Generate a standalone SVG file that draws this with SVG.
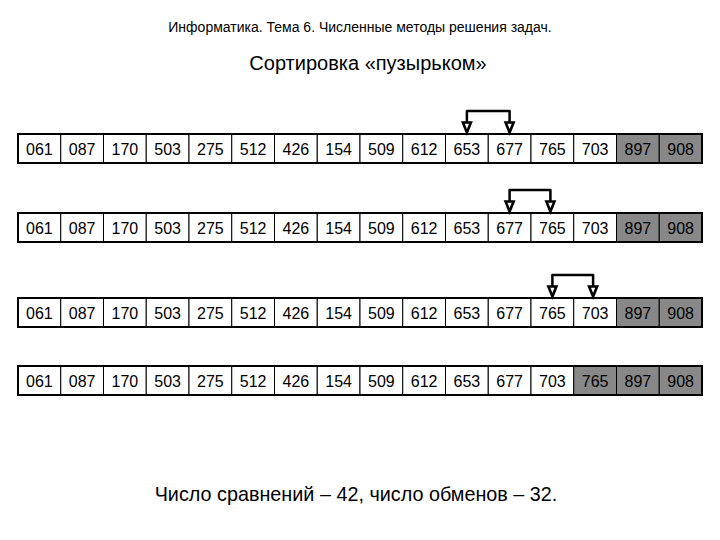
<svg xmlns="http://www.w3.org/2000/svg" xmlns:xlink="http://www.w3.org/1999/xlink" width="720" height="540" viewBox="0 0 720 540">
<style>
.t{font-family:"Liberation Sans",Arial,sans-serif;fill:#000;text-anchor:middle}
.h1{font-size:14px}
.h2{font-size:20px}
.ft{font-size:19.8px}
.c{fill:#fff;stroke:#000;stroke-width:1}
.g{fill:#888;stroke:#000;stroke-width:1}
.o{fill:none;stroke:#000;stroke-width:2}
.v{font-family:"Liberation Sans",Arial,sans-serif;font-size:16px;text-anchor:middle;fill:#000}
.ln{fill:none;stroke:#000;stroke-width:2.5;stroke-linejoin:round}
.ah{fill:#fff;stroke:#000;stroke-width:2.6;stroke-linejoin:miter}
</style>
<defs>
<polygon id="ah" class="ah" points="-4,-11.5 4,-11.5 0,-1.5"/>
</defs>
<rect width="720" height="540" fill="#fff"/>
<text class="t h1" x="360" y="32">Информатика. Тема 6. Численные методы решения задач.</text>
<text class="t h2" x="368" y="70">Сортировка «пузырьком»</text>

<g id="row1">
<rect class="c" x="18" y="134" width="42.75" height="29"/><rect class="c" x="60.75" y="134" width="42.75" height="29"/><rect class="c" x="103.5" y="134" width="42.75" height="29"/><rect class="c" x="146.25" y="134" width="42.75" height="29"/><rect class="c" x="189" y="134" width="42.75" height="29"/><rect class="c" x="231.75" y="134" width="42.75" height="29"/><rect class="c" x="274.5" y="134" width="42.75" height="29"/><rect class="c" x="317.25" y="134" width="42.75" height="29"/><rect class="c" x="360" y="134" width="42.75" height="29"/><rect class="c" x="402.75" y="134" width="42.75" height="29"/><rect class="c" x="445.5" y="134" width="42.75" height="29"/><rect class="c" x="488.25" y="134" width="42.75" height="29"/><rect class="c" x="531" y="134" width="42.75" height="29"/><rect class="c" x="573.75" y="134" width="42.75" height="29"/><rect class="g" x="616.5" y="134" width="42.75" height="29"/><rect class="g" x="659.25" y="134" width="42.75" height="29"/>
<rect class="o" x="18" y="134" width="684" height="29"/>
<text class="v" y="154.5"><tspan x="39.4">061</tspan><tspan x="82.1">087</tspan><tspan x="124.9">170</tspan><tspan x="167.6">503</tspan><tspan x="210.4">275</tspan><tspan x="253.1">512</tspan><tspan x="295.9">426</tspan><tspan x="338.6">154</tspan><tspan x="381.4">509</tspan><tspan x="424.1">612</tspan><tspan x="466.9">653</tspan><tspan x="509.6">677</tspan><tspan x="552.4">765</tspan><tspan x="595.1">703</tspan><tspan x="637.9">897</tspan><tspan x="680.6">908</tspan></text>
</g>

<g id="row2">
<rect class="c" x="18" y="213" width="42.75" height="29"/><rect class="c" x="60.75" y="213" width="42.75" height="29"/><rect class="c" x="103.5" y="213" width="42.75" height="29"/><rect class="c" x="146.25" y="213" width="42.75" height="29"/><rect class="c" x="189" y="213" width="42.75" height="29"/><rect class="c" x="231.75" y="213" width="42.75" height="29"/><rect class="c" x="274.5" y="213" width="42.75" height="29"/><rect class="c" x="317.25" y="213" width="42.75" height="29"/><rect class="c" x="360" y="213" width="42.75" height="29"/><rect class="c" x="402.75" y="213" width="42.75" height="29"/><rect class="c" x="445.5" y="213" width="42.75" height="29"/><rect class="c" x="488.25" y="213" width="42.75" height="29"/><rect class="c" x="531" y="213" width="42.75" height="29"/><rect class="c" x="573.75" y="213" width="42.75" height="29"/><rect class="g" x="616.5" y="213" width="42.75" height="29"/><rect class="g" x="659.25" y="213" width="42.75" height="29"/>
<rect class="o" x="18" y="213" width="684" height="29"/>
<text class="v" y="233.5"><tspan x="39.4">061</tspan><tspan x="82.1">087</tspan><tspan x="124.9">170</tspan><tspan x="167.6">503</tspan><tspan x="210.4">275</tspan><tspan x="253.1">512</tspan><tspan x="295.9">426</tspan><tspan x="338.6">154</tspan><tspan x="381.4">509</tspan><tspan x="424.1">612</tspan><tspan x="466.9">653</tspan><tspan x="509.6">677</tspan><tspan x="552.4">765</tspan><tspan x="595.1">703</tspan><tspan x="637.9">897</tspan><tspan x="680.6">908</tspan></text>
</g>

<g id="row3">
<rect class="c" x="18" y="298" width="42.75" height="29"/><rect class="c" x="60.75" y="298" width="42.75" height="29"/><rect class="c" x="103.5" y="298" width="42.75" height="29"/><rect class="c" x="146.25" y="298" width="42.75" height="29"/><rect class="c" x="189" y="298" width="42.75" height="29"/><rect class="c" x="231.75" y="298" width="42.75" height="29"/><rect class="c" x="274.5" y="298" width="42.75" height="29"/><rect class="c" x="317.25" y="298" width="42.75" height="29"/><rect class="c" x="360" y="298" width="42.75" height="29"/><rect class="c" x="402.75" y="298" width="42.75" height="29"/><rect class="c" x="445.5" y="298" width="42.75" height="29"/><rect class="c" x="488.25" y="298" width="42.75" height="29"/><rect class="c" x="531" y="298" width="42.75" height="29"/><rect class="c" x="573.75" y="298" width="42.75" height="29"/><rect class="g" x="616.5" y="298" width="42.75" height="29"/><rect class="g" x="659.25" y="298" width="42.75" height="29"/>
<rect class="o" x="18" y="298" width="684" height="29"/>
<text class="v" y="318.5"><tspan x="39.4">061</tspan><tspan x="82.1">087</tspan><tspan x="124.9">170</tspan><tspan x="167.6">503</tspan><tspan x="210.4">275</tspan><tspan x="253.1">512</tspan><tspan x="295.9">426</tspan><tspan x="338.6">154</tspan><tspan x="381.4">509</tspan><tspan x="424.1">612</tspan><tspan x="466.9">653</tspan><tspan x="509.6">677</tspan><tspan x="552.4">765</tspan><tspan x="595.1">703</tspan><tspan x="637.9">897</tspan><tspan x="680.6">908</tspan></text>
</g>

<g id="row4">
<rect class="c" x="18" y="366" width="42.75" height="29"/><rect class="c" x="60.75" y="366" width="42.75" height="29"/><rect class="c" x="103.5" y="366" width="42.75" height="29"/><rect class="c" x="146.25" y="366" width="42.75" height="29"/><rect class="c" x="189" y="366" width="42.75" height="29"/><rect class="c" x="231.75" y="366" width="42.75" height="29"/><rect class="c" x="274.5" y="366" width="42.75" height="29"/><rect class="c" x="317.25" y="366" width="42.75" height="29"/><rect class="c" x="360" y="366" width="42.75" height="29"/><rect class="c" x="402.75" y="366" width="42.75" height="29"/><rect class="c" x="445.5" y="366" width="42.75" height="29"/><rect class="c" x="488.25" y="366" width="42.75" height="29"/><rect class="c" x="531" y="366" width="42.75" height="29"/><rect class="g" x="573.75" y="366" width="42.75" height="29"/><rect class="g" x="616.5" y="366" width="42.75" height="29"/><rect class="g" x="659.25" y="366" width="42.75" height="29"/>
<rect class="o" x="18" y="366" width="684" height="29"/>
<text class="v" y="386.5"><tspan x="39.4">061</tspan><tspan x="82.1">087</tspan><tspan x="124.9">170</tspan><tspan x="167.6">503</tspan><tspan x="210.4">275</tspan><tspan x="253.1">512</tspan><tspan x="295.9">426</tspan><tspan x="338.6">154</tspan><tspan x="381.4">509</tspan><tspan x="424.1">612</tspan><tspan x="466.9">653</tspan><tspan x="509.6">677</tspan><tspan x="552.4">703</tspan><tspan x="595.1">765</tspan><tspan x="637.9">897</tspan><tspan x="680.6">908</tspan></text>
</g>

<g id="connectors">
<path class="ln" d="M466.9,122 V111 H509.6 V122"/>
<use xlink:href="#ah" x="466.9" y="134"/><use xlink:href="#ah" x="509.6" y="134"/>
<path class="ln" d="M509.6,201 V190 H550.4 V201"/>
<use xlink:href="#ah" x="509.6" y="213"/><use xlink:href="#ah" x="550.4" y="213"/>
<path class="ln" d="M552.4,286 V275 H593.1 V286"/>
<use xlink:href="#ah" x="552.4" y="298"/><use xlink:href="#ah" x="593.1" y="298"/>
</g>

<text class="t ft" x="356" y="501">Число сравнений – 42, число обменов – 32.</text>
</svg>
